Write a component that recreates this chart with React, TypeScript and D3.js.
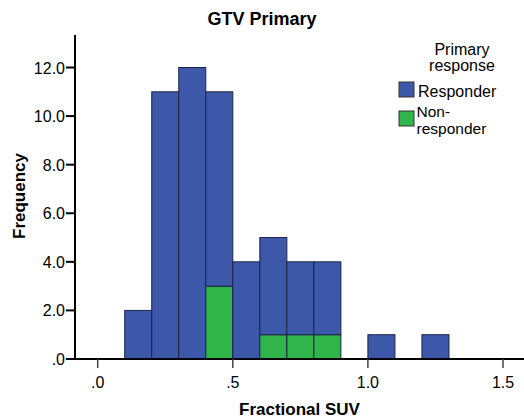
import React, { useEffect, useRef } from 'react';
import * as d3 from 'd3';

// histogram bins (width 0.1), counts stacked: non-responder at bottom
const binStarts = [0.1, 0.2, 0.3, 0.4, 0.5, 0.6, 0.7, 0.8, 1.0, 1.2];
const responder = [2, 11, 12, 8, 4, 4, 3, 3, 1, 1];
const nonResponder = [0, 0, 0, 3, 0, 1, 1, 1, 0, 0];
const binWidth = 0.1;

const xTicks = [0, 0.5, 1.0, 1.5];
const yTicks = [0, 2, 4, 6, 8, 10, 12];

const seriesNames = ['Responder', 'Non-responder'];
const colors = ['#3E58A9', '#2FB54A'];

const W = 524;
const H = 419;

const App: React.FC = () => {
  const svgRef = useRef<SVGSVGElement>(null);

  useEffect(() => {
    if (!svgRef.current) return;
    const svg = d3.select(svgRef.current);
    svg.selectAll('*').remove();

    const font = 'Arial, "Liberation Sans", sans-serif';
    const left = 75;
    const bottom = 359;
    const top = 35;
    const fmt = (t: number) => d3.format('.1f')(t).replace(/^0\./, '.');

    const x = d3.scaleLinear().domain([0, 1.5]).range([97.7, 503]);
    const y = d3.scaleLinear().domain([0, 12]).range([bottom, 67.5]);

    // title
    svg.append('text')
      .attr('x', 262)
      .attr('y', 25)
      .attr('text-anchor', 'middle')
      .style('font-family', font)
      .style('font-weight', 'bold')
      .style('font-size', '18px')
      .text('GTV Primary');

    // bars
    const stroke = '#1c2347';
    binStarts.forEach((b, i) => {
      const x0 = x(b);
      const bw = x(b + binWidth) - x0;
      const nr = nonResponder[i];
      const r = responder[i];
      if (nr > 0) {
        svg.append('rect')
          .attr('x', x0)
          .attr('y', y(nr))
          .attr('width', bw)
          .attr('height', y(0) - y(nr))
          .style('fill', colors[1])
          .style('stroke', stroke)
          .style('stroke-width', 1);
      }
      if (r > 0) {
        svg.append('rect')
          .attr('x', x0)
          .attr('y', y(nr + r))
          .attr('width', bw)
          .attr('height', y(nr) - y(nr + r))
          .style('fill', colors[0])
          .style('stroke', stroke)
          .style('stroke-width', 1);
      }
    });

    // y axis
    svg.append('line')
      .attr('x1', left).attr('x2', left)
      .attr('y1', top).attr('y2', bottom + 1)
      .style('stroke', '#000').style('stroke-width', 2);
    yTicks.forEach(t => {
      svg.append('line')
        .attr('x1', left - 9).attr('x2', left)
        .attr('y1', y(t)).attr('y2', y(t))
        .style('stroke', '#000').style('stroke-width', 2);
      svg.append('text')
        .attr('x', left - 10)
        .attr('y', y(t) + 6)
        .attr('text-anchor', 'end')
        .style('font-family', font)
        .style('font-size', '16px')
        .text(fmt(t));
    });

    // x axis
    svg.append('line')
      .attr('x1', left).attr('x2', W)
      .attr('y1', bottom).attr('y2', bottom)
      .style('stroke', '#000').style('stroke-width', 2);
    xTicks.forEach(t => {
      svg.append('line')
        .attr('x1', x(t)).attr('x2', x(t))
        .attr('y1', bottom).attr('y2', bottom + 9)
        .style('stroke', '#444').style('stroke-width', 1.5);
      svg.append('text')
        .attr('x', x(t))
        .attr('y', 387.5)
        .attr('text-anchor', 'middle')
        .style('font-family', font)
        .style('font-size', '16px')
        .text(fmt(t));
    });

    // axis titles
    svg.append('text')
      .attr('x', 299.5)
      .attr('y', 415)
      .attr('text-anchor', 'middle')
      .style('font-family', font)
      .style('font-weight', 'bold')
      .style('font-size', '17px')
      .text('Fractional SUV');

    svg.append('text')
      .attr('transform', `translate(25,196) rotate(-90)`)
      .attr('text-anchor', 'middle')
      .style('font-family', font)
      .style('font-weight', 'bold')
      .style('font-size', '17px')
      .text('Frequency');

    // legend
    const lg = svg.append('g');
    ['Primary', 'response'].forEach((s, i) => {
      lg.append('text')
        .attr('x', 462)
        .attr('y', 54.5 + i * 16)
        .attr('text-anchor', 'middle')
        .style('font-family', font)
        .style('font-size', '16px')
        .text(s);
    });
    const swY = [82, 111];
    seriesNames.forEach((name, i) => {
      lg.append('rect')
        .attr('x', 399)
        .attr('y', swY[i])
        .attr('width', 15)
        .attr('height', 15)
        .style('fill', colors[i])
        .style('stroke', '#333')
        .style('stroke-width', 1);
    });
    lg.append('text')
      .attr('x', 418).attr('y', 97)
      .style('font-family', font).style('font-size', '16px')
      .text('Responder');
    ['Non-', 'responder'].forEach((s, i) => {
      lg.append('text')
        .attr('x', 416.5).attr('y', 117 + i * 16.5)
        .style('font-family', font).style('font-size', '15.5px')
        .text(s);
    });
  }, []);

  return (
    <div style={{ position: 'absolute', left: 0, top: 0 }}>
      <svg ref={svgRef} width={W} height={H} style={{ display: 'block', background: '#fff' }} />
    </div>
  );
};

export default App;
